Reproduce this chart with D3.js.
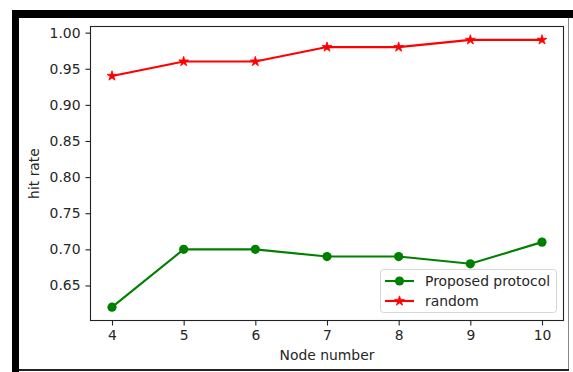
<!DOCTYPE html>
<html>
<head>
<meta charset="utf-8">
<script src="https://cdn.jsdelivr.net/npm/d3@7"></script>
<style>
  html, body { margin: 0; padding: 0; background: #fff; }
  svg { display: block; font-family: "DejaVu Sans", sans-serif; }
</style>
</head>
<body>
<svg id="chart" width="573" height="372"></svg>
<script>
const nodes = [4, 5, 6, 7, 8, 9, 10];
const proposed = [0.62, 0.70, 0.70, 0.69, 0.69, 0.68, 0.71];
const random = [0.94, 0.96, 0.96, 0.98, 0.98, 0.99, 0.99];
const yTicks = [0.65, 0.70, 0.75, 0.80, 0.85, 0.90, 0.95, 1.00];

const svg = d3.select('#chart');

// screenshot frame
svg.append('rect').attr('x', 12).attr('y', 10).attr('width', 561).attr('height', 8).attr('fill', '#000');
svg.append('rect').attr('x', 12).attr('y', 10).attr('width', 7).attr('height', 362).attr('fill', '#000');
svg.append('line').attr('x1', 568.5).attr('x2', 568.5).attr('y1', 18).attr('y2', 370)
    .attr('stroke', '#888').attr('stroke-width', 1);
svg.append('line').attr('x1', 19).attr('x2', 569).attr('y1', 370).attr('y2', 370)
    .attr('stroke', '#222').attr('stroke-width', 2);

const plotL = 90.5, plotR = 563.5, plotT = 26.5, plotB = 320.5;

const x = d3.scaleLinear().domain([3.7, 10.3]).range([plotL, plotR]);
const y = d3.scaleLinear().domain([0.6015, 1.0085]).range([plotB, plotT]);

const textColor = '#262626';
const fs = 13.9;

// axes
const xAxis = svg.append('g').attr('transform', `translate(0,${plotB})`)
    .call(d3.axisBottom(x).tickValues(nodes).tickFormat(d3.format('d')).tickSizeOuter(0).tickSize(5).tickPadding(5));
const yAxis = svg.append('g').attr('transform', `translate(${plotL},0)`)
    .call(d3.axisLeft(y).tickValues(yTicks).tickFormat(d3.format('.2f')).tickSizeOuter(0).tickSize(5).tickPadding(5));
[xAxis, yAxis].forEach(g => {
    g.select('.domain').remove();
    g.selectAll('line').attr('stroke', '#222').attr('stroke-width', 1.1);
    g.selectAll('text').attr('fill', textColor).style('font-size', fs + 'px').style('font-family', '"DejaVu Sans", sans-serif');
});

svg.append('rect')
    .attr('x', plotL).attr('y', plotT)
    .attr('width', plotR - plotL).attr('height', plotB - plotT)
    .attr('fill', 'none').attr('stroke', '#222').attr('stroke-width', 1.1);

const line = d3.line().x((d, i) => x(nodes[i])).y(d => y(d));

// proposed protocol
svg.append('path').datum(proposed)
    .attr('d', line).attr('fill', 'none').attr('stroke', 'green').attr('stroke-width', 2.1);
svg.append('g').selectAll('circle').data(proposed).join('circle')
    .attr('cx', (d, i) => x(nodes[i])).attr('cy', d => y(d))
    .attr('r', 4.6).attr('fill', 'green');

// random
svg.append('path').datum(random)
    .attr('d', line).attr('fill', 'none').attr('stroke', 'red').attr('stroke-width', 2.1);
const star = d3.symbol().type(d3.symbolStar).size(30);
svg.append('g').selectAll('path').data(random).join('path')
    .attr('d', star)
    .attr('transform', (d, i) => `translate(${x(nodes[i])},${y(d)})`)
    .attr('fill', 'red').attr('stroke', 'red').attr('stroke-width', 0.8);

// axis labels
svg.append('text')
    .attr('x', (plotL + plotR) / 2).attr('y', 360)
    .attr('text-anchor', 'middle').attr('fill', textColor).style('font-size', fs + 'px')
    .text('Node number');
svg.append('text')
    .attr('transform', `translate(39,${(plotT + plotB) / 2}) rotate(-90)`)
    .attr('text-anchor', 'middle').attr('fill', textColor).style('font-size', fs + 'px')
    .text('hit rate');

// legend
const legend = svg.append('g');
legend.append('rect')
    .attr('x', 380.5).attr('y', 269.5).attr('width', 176).attr('height', 43).attr('rx', 3)
    .attr('fill', '#fff').attr('fill-opacity', 0.8).attr('stroke', '#d6d6d6').attr('stroke-width', 1);
const items = [
    { label: 'Proposed protocol', color: 'green', marker: 'circle' },
    { label: 'random', color: 'red', marker: 'star' }
];
items.forEach((it, i) => {
    const cy = 281 + i * 20;
    legend.append('line').attr('x1', 385).attr('x2', 414).attr('y1', cy).attr('y2', cy)
        .attr('stroke', it.color).attr('stroke-width', 2.1);
    if (it.marker === 'circle') {
        legend.append('circle').attr('cx', 399.5).attr('cy', cy).attr('r', 4.6).attr('fill', it.color);
    } else {
        legend.append('path').attr('d', star).attr('transform', `translate(399.5,${cy})`)
            .attr('fill', it.color).attr('stroke', it.color).attr('stroke-width', 0.8);
    }
    legend.append('text').attr('x', 425).attr('y', cy + 5)
        .attr('fill', textColor).style('font-size', fs + 'px').text(it.label);
});
</script>
</body>
</html>
